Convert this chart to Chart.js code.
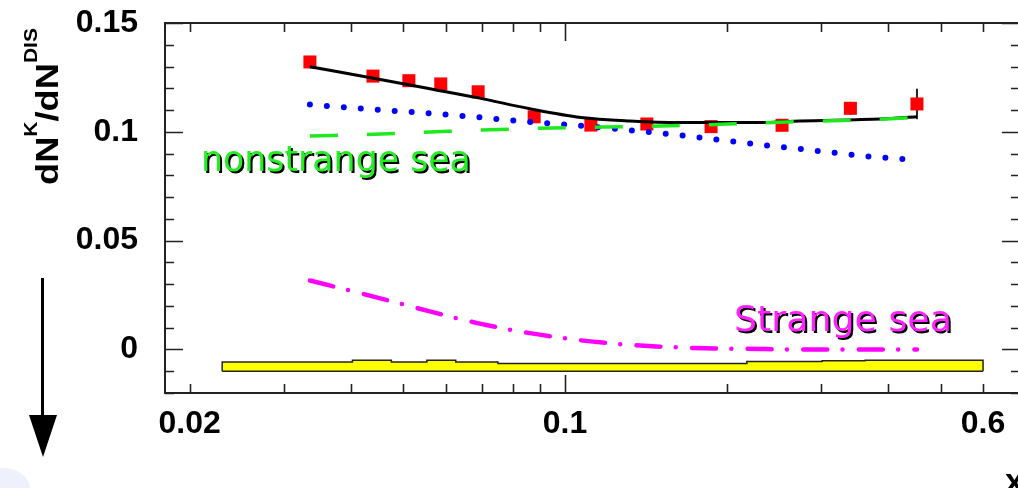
<!DOCTYPE html>
<html>
<head>
<meta charset="utf-8">
<script src="https://cdn.jsdelivr.net/npm/chart.js@4/dist/chart.umd.min.js"></script>
<style>
  html, body { margin: 0; padding: 0; background: #fff; overflow: hidden; }
  #wrap { width: 1030px; height: 488px; }
</style>
</head>
<body>
<div id="wrap"><canvas id="kaonChart" width="1030" height="488"></canvas></div>
<script>
// measured K multiplicity ratio
const dataX = [0.0335, 0.0439, 0.0512, 0.0587, 0.0689, 0.0876, 0.1117, 0.142, 0.187, 0.2535, 0.3398, 0.452];
const dataY = [0.1321, 0.1256, 0.1235, 0.1220, 0.1184, 0.1069, 0.1031, 0.1036, 0.1024, 0.1030, 0.1108, 0.1128];
const dataErr = [0.001, 0.001, 0.001, 0.001, 0.001, 0.002, 0.002, 0.002, 0.002, 0.002, 0.003, 0.007];

// fit curves, sampled on a common x grid
const curveX = [0.0335, 0.044, 0.056, 0.069, 0.086, 0.107, 0.132, 0.164, 0.231, 0.274, 0.387, 0.452];
const totalFit = [0.1299, 0.1246, 0.1198, 0.1156, 0.1106, 0.1066, 0.1050, 0.1043, 0.1043, 0.1050, 0.1059, 0.1069];
const dottedFit = [0.1125, 0.1103, 0.1085, 0.1067, 0.1045, 0.1028, 0.1007, 0.0984, 0.0941, 0.0921, 0.0882, 0.0872];
const nonstrangeSea = [0.0981, 0.0989, 0.0999, 0.1008, 0.1015, 0.1020, 0.1024, 0.1029, 0.1041, 0.1047, 0.1058, 0.1066];
const strangeSea = [0.0317, 0.0243, 0.0175, 0.0120, 0.0075, 0.0042, 0.0021, 0.0009, 0.0002, 0.0, 0.0, 0.0];

// systematic band
const bandEdges = [0.023, 0.0402, 0.0475, 0.0553, 0.0626, 0.075, 0.218, 0.301, 0.362, 0.6];
const bandTop = [-0.0058, -0.0050, -0.0058, -0.0050, -0.0058, -0.0064, -0.0055, -0.0052, -0.0050];
const bandBase = -0.01;

// axes
const xTicks = [0.02, 0.03, 0.04, 0.05, 0.06, 0.07, 0.08, 0.09, 0.1, 0.2, 0.3, 0.4, 0.5, 0.6, 0.7];
const xMajor = [0.1];
const xLabelled = [0.02, 0.1, 0.6];
const xLabelText = ['0.02', '0.1', '0.6'];
const yTicks = [-0.02, -0.01, 0, 0.01, 0.02, 0.03, 0.04, 0.05, 0.06, 0.07, 0.08, 0.09, 0.1, 0.11, 0.12, 0.13, 0.14, 0.15];
const yLabelled = [0, 0.05, 0.1, 0.15];
const yLabelText = ['0', '0.05', '0.1', '0.15'];

const near = (a, b) => Math.abs(a - b) < 1e-9;
const pts = (xs, ys) => xs.map((x, i) => ({ x: x, y: ys[i] }));

const bandPts = [{ x: bandEdges[0], y: bandBase }];
bandTop.forEach((t, i) => {
  bandPts.push({ x: bandEdges[i], y: t });
  bandPts.push({ x: bandEdges[i + 1], y: t });
});
bandPts.push({ x: bandEdges[bandEdges.length - 1], y: bandBase });

const tickFont = { family: 'Liberation Sans', size: 32, weight: 'bold' };

// frame, inward ticks, error bars and drawn text
const decor = {
  id: 'decor',
  beforeDatasetsDraw(chart) {
    const ctx = chart.ctx, xs = chart.scales.x, ys = chart.scales.y;
    ctx.save();
    ctx.strokeStyle = '#222';
    ctx.lineWidth = 2;
    dataX.forEach((x, i) => {
      const px = xs.getPixelForValue(x);
      ctx.beginPath();
      ctx.moveTo(px, ys.getPixelForValue(dataY[i] + dataErr[i]));
      ctx.lineTo(px, ys.getPixelForValue(dataY[i] - dataErr[i]));
      ctx.stroke();
    });
    ctx.restore();
  },
  afterDraw(chart) {
    const ctx = chart.ctx, a = chart.chartArea, xs = chart.scales.x, ys = chart.scales.y;
    ctx.save();
    ctx.strokeStyle = '#222';
    ctx.lineWidth = 2;
    ctx.strokeRect(a.left, a.top, a.right - a.left, a.bottom - a.top);
    ctx.lineWidth = 1.6;
    ctx.beginPath();
    yTicks.forEach(v => {
      const py = Math.round(ys.getPixelForValue(v)) + 0.5;
      const len = yLabelled.some(l => near(l, v)) ? 18 : 9;
      ctx.moveTo(a.left, py); ctx.lineTo(a.left + len, py);
      ctx.moveTo(a.right, py); ctx.lineTo(a.right - len, py);
    });
    xTicks.forEach(v => {
      const px = Math.round(xs.getPixelForValue(v)) + 0.5;
      const len = xMajor.some(l => near(l, v)) ? 18 : 9;
      ctx.moveTo(px, a.bottom); ctx.lineTo(px, a.bottom - len);
      ctx.moveTo(px, a.top); ctx.lineTo(px, a.top + len);
    });
    ctx.stroke();

    // y axis title, rotated, with superscripts
    const parts = [['dN', 31, 0], ['K', 18, -21], ['/dN', 31, 0], ['DIS', 18, -21]];
    let total = 0;
    parts.forEach(p => { ctx.font = 'bold ' + p[1] + 'px "Liberation Sans"'; total += ctx.measureText(p[0]).width; });
    ctx.translate(58, 185);
    ctx.rotate(-Math.PI / 2);
    ctx.scale(157 / total, 1);
    ctx.fillStyle = '#000';
    ctx.textBaseline = 'alphabetic';
    let cx = 0;
    parts.forEach(p => {
      ctx.font = 'bold ' + p[1] + 'px "Liberation Sans"';
      ctx.fillText(p[0], cx, p[2]);
      cx += ctx.measureText(p[0]).width;
    });
    ctx.restore();

    // x axis title
    ctx.save();
    ctx.fillStyle = '#000';
    ctx.font = 'bold 34px "Liberation Sans"';
    ctx.fillText('x', 1005, 492);

    // curve annotations with drop shadow
    const note = (text, x, y, width, color) => {
      ctx.font = '100px "DejaVu Sans"';
      const size = 100 * width / ctx.measureText(text).width;
      ctx.font = size + 'px "DejaVu Sans"';
      ctx.fillStyle = '#000';
      ctx.fillText(text, x + 2, y + 2);
      ctx.fillStyle = color;
      ctx.fillText(text, x, y);
    };
    note('nonstrange sea', 201, 171, 270, '#22ee22');
    note('Strange sea', 734, 331, 218, '#ff22ff');

    // arrow
    ctx.strokeStyle = '#000';
    ctx.lineWidth = 3;
    ctx.beginPath();
    ctx.moveTo(42.5, 278); ctx.lineTo(42.5, 420);
    ctx.stroke();
    ctx.fillStyle = '#000';
    ctx.beginPath();
    ctx.moveTo(29, 415); ctx.lineTo(57, 415); ctx.lineTo(43, 457);
    ctx.closePath();
    ctx.fill();

    // faint corner shape
    ctx.fillStyle = '#eef0fb';
    ctx.beginPath();
    ctx.ellipse(4, 490, 26, 22, 0, 0, Math.PI * 2);
    ctx.fill();
    ctx.restore();
  }
};

const ctx = document.getElementById('kaonChart').getContext('2d');
const kaonChart = new Chart(ctx, {
  type: 'line',
  data: {
    datasets: [
      {
        label: 'nonstrange sea',
        data: pts(curveX, nonstrangeSea),
        borderColor: '#1ee81e',
        borderWidth: 3.5,
        borderDash: [28, 29],
        pointRadius: 0,
        cubicInterpolationMode: 'monotone',
        fill: false
      },
      {
        label: 'total',
        data: pts(curveX, totalFit),
        borderColor: '#000',
        borderWidth: 3,
        pointRadius: 0,
        cubicInterpolationMode: 'monotone',
        fill: false
      },
      {
        label: 'dotted',
        data: pts(curveX, dottedFit),
        borderColor: '#0000ff',
        borderWidth: 6,
        borderDash: [0, 17],
        borderCapStyle: 'round',
        pointRadius: 0,
        cubicInterpolationMode: 'monotone',
        fill: false
      },
      {
        label: 'Strange sea',
        data: pts(curveX, strangeSea),
        borderColor: '#ff00ff',
        borderWidth: 4.5,
        borderDash: [24, 15.3, 0, 16.3],
        borderCapStyle: 'round',
        pointRadius: 0,
        cubicInterpolationMode: 'monotone',
        fill: false
      },
      {
        type: 'scatter',
        label: 'data',
        data: pts(dataX, dataY),
        pointStyle: 'rect',
        pointRadius: 9.2,
        pointBackgroundColor: '#ff0000',
        pointBorderWidth: 0,
        showLine: false
      },
      {
        label: 'band edge',
        data: [{ x: bandEdges[0], y: bandBase }, { x: bandEdges[bandEdges.length - 1], y: bandBase }],
        borderColor: '#222',
        borderWidth: 1.5,
        pointRadius: 0,
        fill: false
      },
      {
        label: 'syst',
        data: bandPts,
        borderColor: '#222',
        borderWidth: 1.5,
        backgroundColor: '#ffff00',
        pointRadius: 0,
        tension: 0,
        fill: { value: bandBase }
      }
    ]
  },
  options: {
    responsive: false,
    animation: false,
    layout: { padding: { top: 23, right: 10, left: 0, bottom: 0 } },
    plugins: { legend: { display: false }, tooltip: { enabled: false } },
    scales: {
      x: {
        type: 'logarithmic',
        min: 0.018,
        max: 0.703,
        afterBuildTicks: (scale) => { scale.ticks = xTicks.map(v => ({ value: v })); },
        afterFit: (scale) => {
          scale.height = 95;
          scale.paddingLeft = 0;
          scale.paddingRight = 0;
        },
        grid: { display: false },
        border: { display: false },
        ticks: {
          autoSkip: false,
          maxRotation: 0,
          padding: 4,
          color: '#000',
          font: tickFont,
          callback: (value) => {
            const i = xLabelled.findIndex(v => near(v, value));
            return i >= 0 ? xLabelText[i] : '';
          }
        }
      },
      y: {
        type: 'linear',
        min: -0.02,
        max: 0.15,
        afterBuildTicks: (scale) => { scale.ticks = yTicks.map(v => ({ value: v })); },
        afterFit: (scale) => {
          scale.width = 165;
          scale.paddingTop = 0;
          scale.paddingBottom = 0;
        },
        grid: { display: false },
        border: { display: false },
        ticks: {
          autoSkip: false,
          padding: 19,
          color: '#000',
          font: tickFont,
          callback: (value) => {
            const i = yLabelled.findIndex(v => near(v, value));
            return i >= 0 ? yLabelText[i] : '';
          }
        }
      }
    }
  },
  plugins: [decor]
});
</script>
</body>
</html>
